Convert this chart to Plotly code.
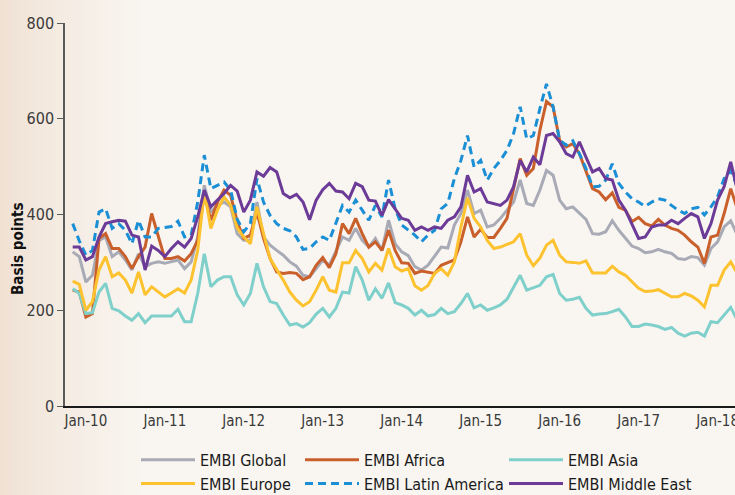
import plotly.graph_objects as go

# month index 0 = first plotted month; tick labels sit at indices 2, 14, 26, ...
tick_labels = ["Jan-10", "Jan-11", "Jan-12", "Jan-13", "Jan-14", "Jan-15", "Jan-16", "Jan-17", "Jan-18"]
tick_positions = [2, 14, 26, 38, 50, 62, 74, 86, 98]

embi_global = [322, 312, 259, 273, 346, 353, 312, 322, 305, 284, 318, 291, 298, 301, 298, 301, 305, 287, 301, 353,
               461, 405, 419, 426, 416, 360, 346, 346, 426, 353, 336, 325, 315, 301, 292, 273, 270, 287, 305, 294,
               322, 353, 346, 371, 346, 332, 350, 325, 388, 339, 322, 314, 291, 284, 294, 312, 332, 330, 378, 402,
               451, 402, 409, 374, 378, 392, 409, 426, 472, 423, 419, 451, 492, 482, 430, 412, 416, 404, 390, 360,
               359, 364, 387, 367, 350, 334, 329, 320, 322, 327, 322, 319, 308, 306, 312, 310, 294, 329, 343, 374,
               387, 357]
embi_africa = [242, 238, 186, 193, 350, 360, 329, 329, 312, 287, 312, 332, 402, 353, 308, 308, 312, 303, 318, 346,
               444, 388, 426, 451, 440, 385, 350, 357, 405, 350, 308, 280, 277, 279, 277, 264, 270, 294, 310, 289,
               318, 381, 360, 392, 360, 332, 343, 325, 367, 325, 299, 298, 277, 282, 280, 277, 294, 300, 305, 343,
               395, 353, 369, 352, 352, 371, 392, 454, 517, 482, 496, 576, 636, 625, 555, 541, 548, 527, 489, 454,
               447, 431, 445, 415, 409, 385, 394, 381, 376, 390, 378, 371, 367, 357, 343, 332, 298, 353, 357, 402,
               454, 412]
embi_asia = [245, 235, 193, 195, 238, 256, 204, 199, 188, 179, 193, 174, 188, 188, 188, 188, 202, 176, 176, 235,
             318, 249, 263, 270, 270, 232, 211, 235, 298, 249, 218, 214, 190, 169, 172, 165, 174, 192, 204, 186,
             204, 238, 236, 291, 263, 221, 245, 225, 257, 216, 211, 204, 190, 200, 188, 191, 204, 193, 197, 214,
             235, 205, 211, 200, 205, 211, 223, 249, 273, 242, 247, 252, 270, 275, 235, 221, 223, 227, 204, 190,
             192, 193, 197, 202, 186, 166, 166, 171, 169, 166, 160, 164, 152, 146, 152, 154, 146, 176, 174, 190,
             206, 179]
embi_europe = [261, 254, 200, 218, 284, 312, 270, 278, 263, 236, 280, 232, 249, 238, 228, 236, 245, 236, 263, 325,
               447, 371, 409, 437, 419, 372, 353, 339, 416, 360, 308, 285, 263, 238, 221, 209, 218, 242, 270, 242,
               238, 299, 299, 325, 308, 280, 298, 284, 329, 291, 282, 287, 251, 242, 252, 277, 287, 273, 301, 374,
               435, 392, 374, 346, 329, 332, 337, 343, 360, 315, 293, 309, 336, 346, 315, 301, 300, 298, 303, 278,
               278, 278, 292, 280, 273, 259, 246, 239, 240, 243, 235, 228, 228, 235, 230, 221, 207, 252, 252, 284,
               301, 277]
embi_latam = [381, 345, 315, 325, 405, 412, 371, 381, 367, 339, 388, 353, 353, 371, 373, 375, 386, 353, 357, 426,
              524, 454, 461, 468, 451, 390, 364, 381, 475, 426, 398, 381, 371, 366, 353, 327, 329, 343, 353, 346,
              382, 419, 405, 430, 409, 388, 419, 395, 472, 412, 378, 368, 357, 343, 357, 367, 412, 423, 475, 513,
              565, 499, 513, 472, 496, 513, 534, 569, 625, 558, 565, 621, 673, 625, 555, 545, 554, 527, 496, 458,
              459, 472, 506, 465, 447, 433, 426, 417, 426, 433, 430, 419, 409, 402, 412, 415, 399, 416, 437, 475,
              492, 458]
embi_mideast = [332, 332, 305, 312, 353, 381, 385, 388, 386, 357, 353, 284, 334, 325, 312, 329, 343, 332, 350, 395,
                451, 416, 430, 444, 461, 449, 405, 430, 489, 480, 498, 489, 444, 435, 442, 426, 389, 430, 452, 465,
                449, 447, 433, 465, 458, 430, 428, 398, 431, 412, 392, 388, 367, 374, 367, 374, 371, 388, 395, 416,
                482, 447, 454, 426, 423, 419, 430, 458, 513, 489, 520, 504, 565, 569, 552, 527, 520, 552, 520, 489,
                496, 475, 472, 430, 409, 381, 350, 353, 374, 378, 378, 388, 381, 392, 402, 395, 350, 381, 430, 458,
                510, 451]

months = list(range(len(embi_global)))

series = [
    ("EMBI Global", embi_global, "#a8aab6", "solid", "legend"),
    ("EMBI Africa", embi_africa, "#c9602c", "solid", "legend2"),
    ("EMBI Asia", embi_asia, "#7fcfcb", "solid", "legend3"),
    ("EMBI Europe", embi_europe, "#fdc22f", "solid", "legend"),
    ("EMBI Latin America", embi_latam, "#1b8fd5", "8px,5px", "legend2"),
    ("EMBI Middle East", embi_mideast, "#6c3a97", "solid", "legend3"),
]

fig = go.Figure()
for name, vals, color, dash, lg in series:
    fig.add_trace(go.Scatter(
        x=months, y=vals, mode="lines", name=name,
        line=dict(color=color, width=3, dash=dash),
        legend=lg, legendgroup=name,
    ))

W, H = 735, 495
L, R, T, B = 65, 0, 23, 89
PW = W - L - R

# soft beige tint on the left edge of the page
shapes = []
c0 = (240, 225, 211)
c1 = (249, 246, 241)
n = 30
for i in range(n):
    t = (i / (n - 1)) ** 0.8
    col = tuple(round(c0[k] + (c1[k] - c0[k]) * t) for k in range(3))
    x0 = (i * 5 - L) / PW
    x1 = ((i + 1) * 5 - L) / PW
    shapes.append(dict(type="rect", xref="paper", yref="paper", x0=x0, x1=x1, y0=-0.3, y1=1.1,
                       fillcolor="rgb(%d,%d,%d)" % col, line=dict(width=0), layer="below"))

font_family = "Liberation Sans Narrow, DejaVu Sans Condensed, Arial Narrow, sans-serif"
leg_common = dict(orientation="v", yanchor="top", xanchor="left", bgcolor="rgba(0,0,0,0)",
                  font=dict(family=font_family, size=16, color="#1a1a1a"),
                  itemwidth=54, tracegroupgap=12, traceorder="normal")

fig.update_layout(
    width=W, height=H,
    margin=dict(l=L, r=R, t=T, b=B, autoexpand=False),
    paper_bgcolor="#f9f6f1",
    plot_bgcolor="rgba(0,0,0,0)",
    font=dict(family=font_family, color="#333333"),
    showlegend=True,
    shapes=shapes,
    legend=dict(x=(136 - L) / PW, y=-0.096, **leg_common),
    legend2=dict(x=(300 - L) / PW, y=-0.096, **leg_common),
    legend3=dict(x=(504 - L) / PW, y=-0.096, **leg_common),
    xaxis=dict(range=[-1.17, 100.65], tickmode="array", tickvals=tick_positions, ticktext=tick_labels,
               showline=True, linecolor="#1a1a1a", linewidth=1.5, ticks="", showgrid=False, zeroline=False,
               ticklabeloverflow="allow",
               tickfont=dict(family=font_family, size=15, color="#3a3a3a")),
    yaxis=dict(range=[0, 800], tickvals=[0, 200, 400, 600, 800], showline=True, linecolor="#5a5a5a",
               linewidth=1.5, ticks="outside", ticklen=6, tickcolor="#5a5a5a", showgrid=False, zeroline=False,
               tickfont=dict(family=font_family, size=16, color="#3a3a3a")),
    annotations=[dict(text="<b>Basis points</b>", textangle=-90, xref="paper", yref="paper",
                      x=(18 - L) / PW, y=0.41, xanchor="center", yanchor="middle", showarrow=False,
                      font=dict(family=font_family, size=15, color="#111111"))],
)

fig.write_html(
    "out.html",
    config={"displayModeBar": False},
    post_script="document.body.style.margin='0px';document.body.style.background='#f9f6f1';"
                "document.body.style.overflow='hidden';",
)
